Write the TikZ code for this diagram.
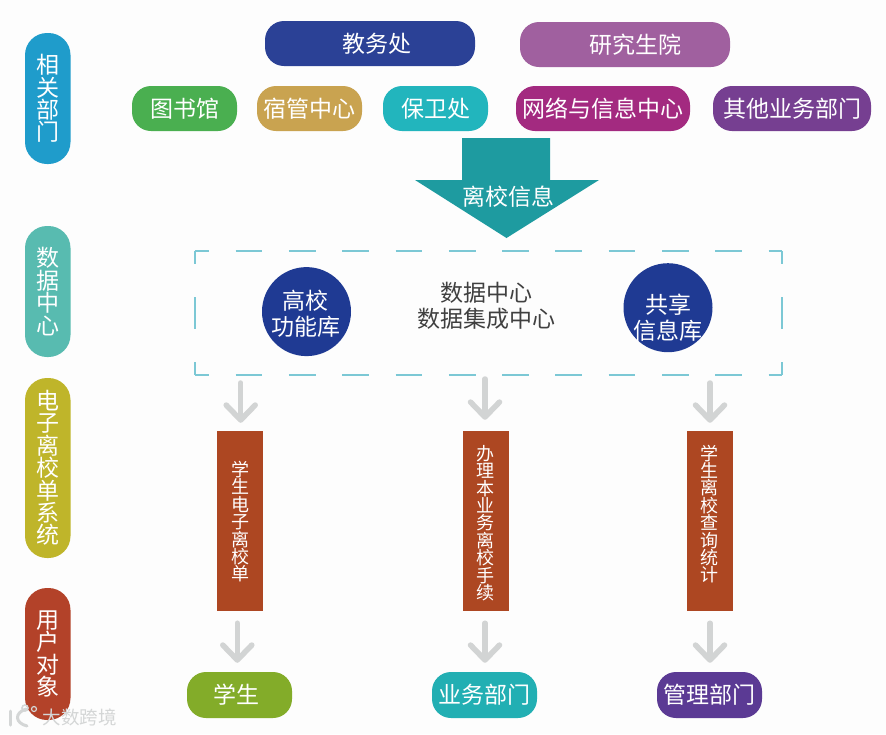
\documentclass[tikz,border=0pt]{standalone}
\usepackage{fontspec}
\usepackage{xcolor}
\usepackage{tikz}
\usetikzlibrary{arrows.meta}
\setmainfont{Noto Sans CJK SC}
\definecolor{pageback}{HTML}{FDFDFD}
\definecolor{framecol}{HTML}{7CC8D5}
\definecolor{arrowgray}{HTML}{D2D4D4}
\definecolor{bigarrow}{HTML}{1E9BA0}
\definecolor{ballblue}{HTML}{1F3A93}
\definecolor{brickbox}{HTML}{AD4722}
\definecolor{markgray}{HTML}{D4D6D6}

\begin{document}
\begin{tikzpicture}[x=1pt,y=-1pt,
  sidepill/.style={draw=none,rounded corners=22pt,minimum width=45.5pt,inner sep=0pt,text=white,align=center,font=\fontsize{23}{22.4}\selectfont},
  deptpill/.style={draw=none,rounded corners=19pt,minimum height=45pt,inner sep=0pt,text=white,font=\fontsize{23}{26}\selectfont},
  ballnode/.style={circle,draw=none,fill=ballblue,minimum size=89pt,inner sep=0pt},
  balltext/.style={text=white,align=center,inner sep=0pt,font=\fontsize{23}{26}\selectfont},
  brickstack/.style={draw=none,fill=brickbox,minimum width=46pt,minimum height=180pt,inner sep=0pt},
  bricktext/.style={text=white,align=center,inner sep=0pt,font=\fontsize{18}{17.4}\selectfont},
  downarrow/.style={-{Straight Barb[length=15pt,width=29pt,round]},arrowgray,line width=5.5pt,line cap=round},
  frameh/.style={framecol,line width=1.8pt,dash pattern=on 26.7pt off 26.6pt,dash phase=12.7pt},
  framev/.style={framecol,line width=1.8pt,dash pattern=on 32pt off 33pt,dash phase=19pt}]
  \useasboundingbox[fill=pageback] (0,0) rectangle (886,734);
  % left column
  \node[sidepill,fill={rgb,255:red,31;green,156;blue,203},minimum height=131pt] (xiangguan) at (47.75,98.5) {相\\关\\部\\门};
  \node[sidepill,fill={rgb,255:red,88;green,187;blue,176},minimum height=131pt] (shuju) at (47.75,291.5) {数\\据\\中\\心};
  \node[sidepill,fill={rgb,255:red,191;green,181;blue,42},minimum height=180pt] (danxitong) at (47.75,468) {电\\子\\离\\校\\单\\系\\统};
  \node[sidepill,fill={rgb,255:red,179;green,66;blue,41},minimum height=132pt] (yonghu) at (47.75,654) {用\\户\\对\\象};
  % departments
  \node[deptpill,fill={rgb,255:red,43;green,65;blue,150},minimum width=210pt] (jiaowu) at (370,43.5) {\hspace*{14pt}教务处};
  \node[deptpill,fill={rgb,255:red,160;green,96;blue,159},minimum width=210pt] (yanjiu) at (625,44.5) {\hspace*{20pt}研究生院};
  \node[deptpill,fill={rgb,255:red,74;green,175;blue,80},minimum width=105pt] (tushu) at (184.5,108.5) {图书馆};
  \node[deptpill,fill={rgb,255:red,201;green,163;blue,80},minimum width=105pt] (suguan) at (309.5,108.5) {宿管中心};
  \node[deptpill,fill={rgb,255:red,34;green,181;blue,189},minimum width=105pt] (baowei) at (435.5,108.5) {保卫处};
  \node[deptpill,fill={rgb,255:red,163;green,42;blue,128},minimum width=174pt] (wangluo) at (603,108.5) {网络与信息中心};
  \node[deptpill,fill={rgb,255:red,118;green,63;blue,145},minimum width=158pt] (qita) at (792,108.5) {其他业务部门};
  % big arrow
  \fill[bigarrow] (462,138) -- (550,138) -- (550,180) -- (599,180) -- (506.5,238) -- (415,180) -- (462,180) -- cycle;
  \node[text=white,inner sep=0pt,font=\fontsize{23}{26}\selectfont] (lixiao) at (508,197) {离校信息};
  % data frame
  \draw[frameh] (195,251) -- (782,251);
  \draw[frameh] (195,375) -- (782,375);
  \draw[framev] (195,251) -- (195,375);
  \draw[framev] (782,251) -- (782,375);
  \node[ballnode] (gongneng) at (306.5,311.6) {};
  \node[balltext] (gongnengtext) at (305.7,314) {高校\\功能库};
  \node[ballnode] (gongxiang) at (668,307.7) {};
  \node[balltext] (gongxiangtext) at (668,318) {共享\\信息库};
  \node[align=center,inner sep=0pt,text={rgb,255:red,64;green,64;blue,64},font=\fontsize{23}{26}\selectfont] (zhongxin) at (486,306) {数据中心\\数据集成中心};
  % system boxes
  \node[brickstack] (xuesheng) at (240,521) {};
  \node[bricktext] (xueshengtext) at (240,521.7) {学\\生\\电\\子\\离\\校\\单};
  \node[brickstack] (banli) at (486,521) {};
  \node[bricktext] (banlitext) at (485.5,523) {办\\理\\本\\业\\务\\离\\校\\手\\续};
  \node[brickstack] (chaxun) at (710,521) {};
  \node[bricktext] (chaxuntext) at (709,514) {学\\生\\离\\校\\查\\询\\统\\计};
  % users
  \node[deptpill,fill={rgb,255:red,131;green,172;blue,41},minimum width=105pt,minimum height=46pt] (xs) at (239.5,695) {\hspace*{-7pt}学生};
  \node[deptpill,fill={rgb,255:red,34;green,175;blue,179},minimum width=105pt,minimum height=46pt] (yewu) at (484.5,695) {业务部门};
  \node[deptpill,fill={rgb,255:red,91;green,58;blue,148},minimum width=105pt,minimum height=46pt] (guanli) at (709.5,695) {管理部门};
  % arrows
  \coordinate (fromframea) at (240.7,383);
  \coordinate (fromframeb) at (485,379);
  \coordinate (fromframec) at (710,383);
  \draw[downarrow,shorten >=8pt] (fromframea) -- (fromframea |- xuesheng.north);
  \draw[downarrow,shorten >=11pt] (fromframeb) -- (fromframeb |- banli.north);
  \draw[downarrow,shorten >=8pt] (fromframec) -- (fromframec |- chaxun.north);
  \draw[downarrow,shorten <=12pt,shorten >=9pt] ([xshift=-2.7pt]xuesheng.south) -- ([xshift=-2.2pt]xs.north);
  \draw[downarrow,shorten <=12pt,shorten >=9pt] ([xshift=-1pt]banli.south) -- ([xshift=.5pt]yewu.north);
  \draw[downarrow,shorten <=12pt,shorten >=9pt] (chaxun.south) -- ([xshift=.5pt]guanli.north);
  % corner mark
  \draw[markgray,line width=3pt,line cap=round] (10,711) -- (10,725);
  \draw[markgray,line width=3pt,line cap=round] (26,709) .. controls (14,713) and (15,723) .. (27,726);
  \draw[markgray,line width=1.6pt] (25,708) circle (3pt);
  \draw[markgray,line width=1.2pt] (34,709) circle (2.5pt);
  \node[text=markgray,inner sep=0pt,font=\fontsize{18.5}{20}\selectfont] (damark) at (79.5,717) {大数跨境};
\end{tikzpicture}
\end{document}
